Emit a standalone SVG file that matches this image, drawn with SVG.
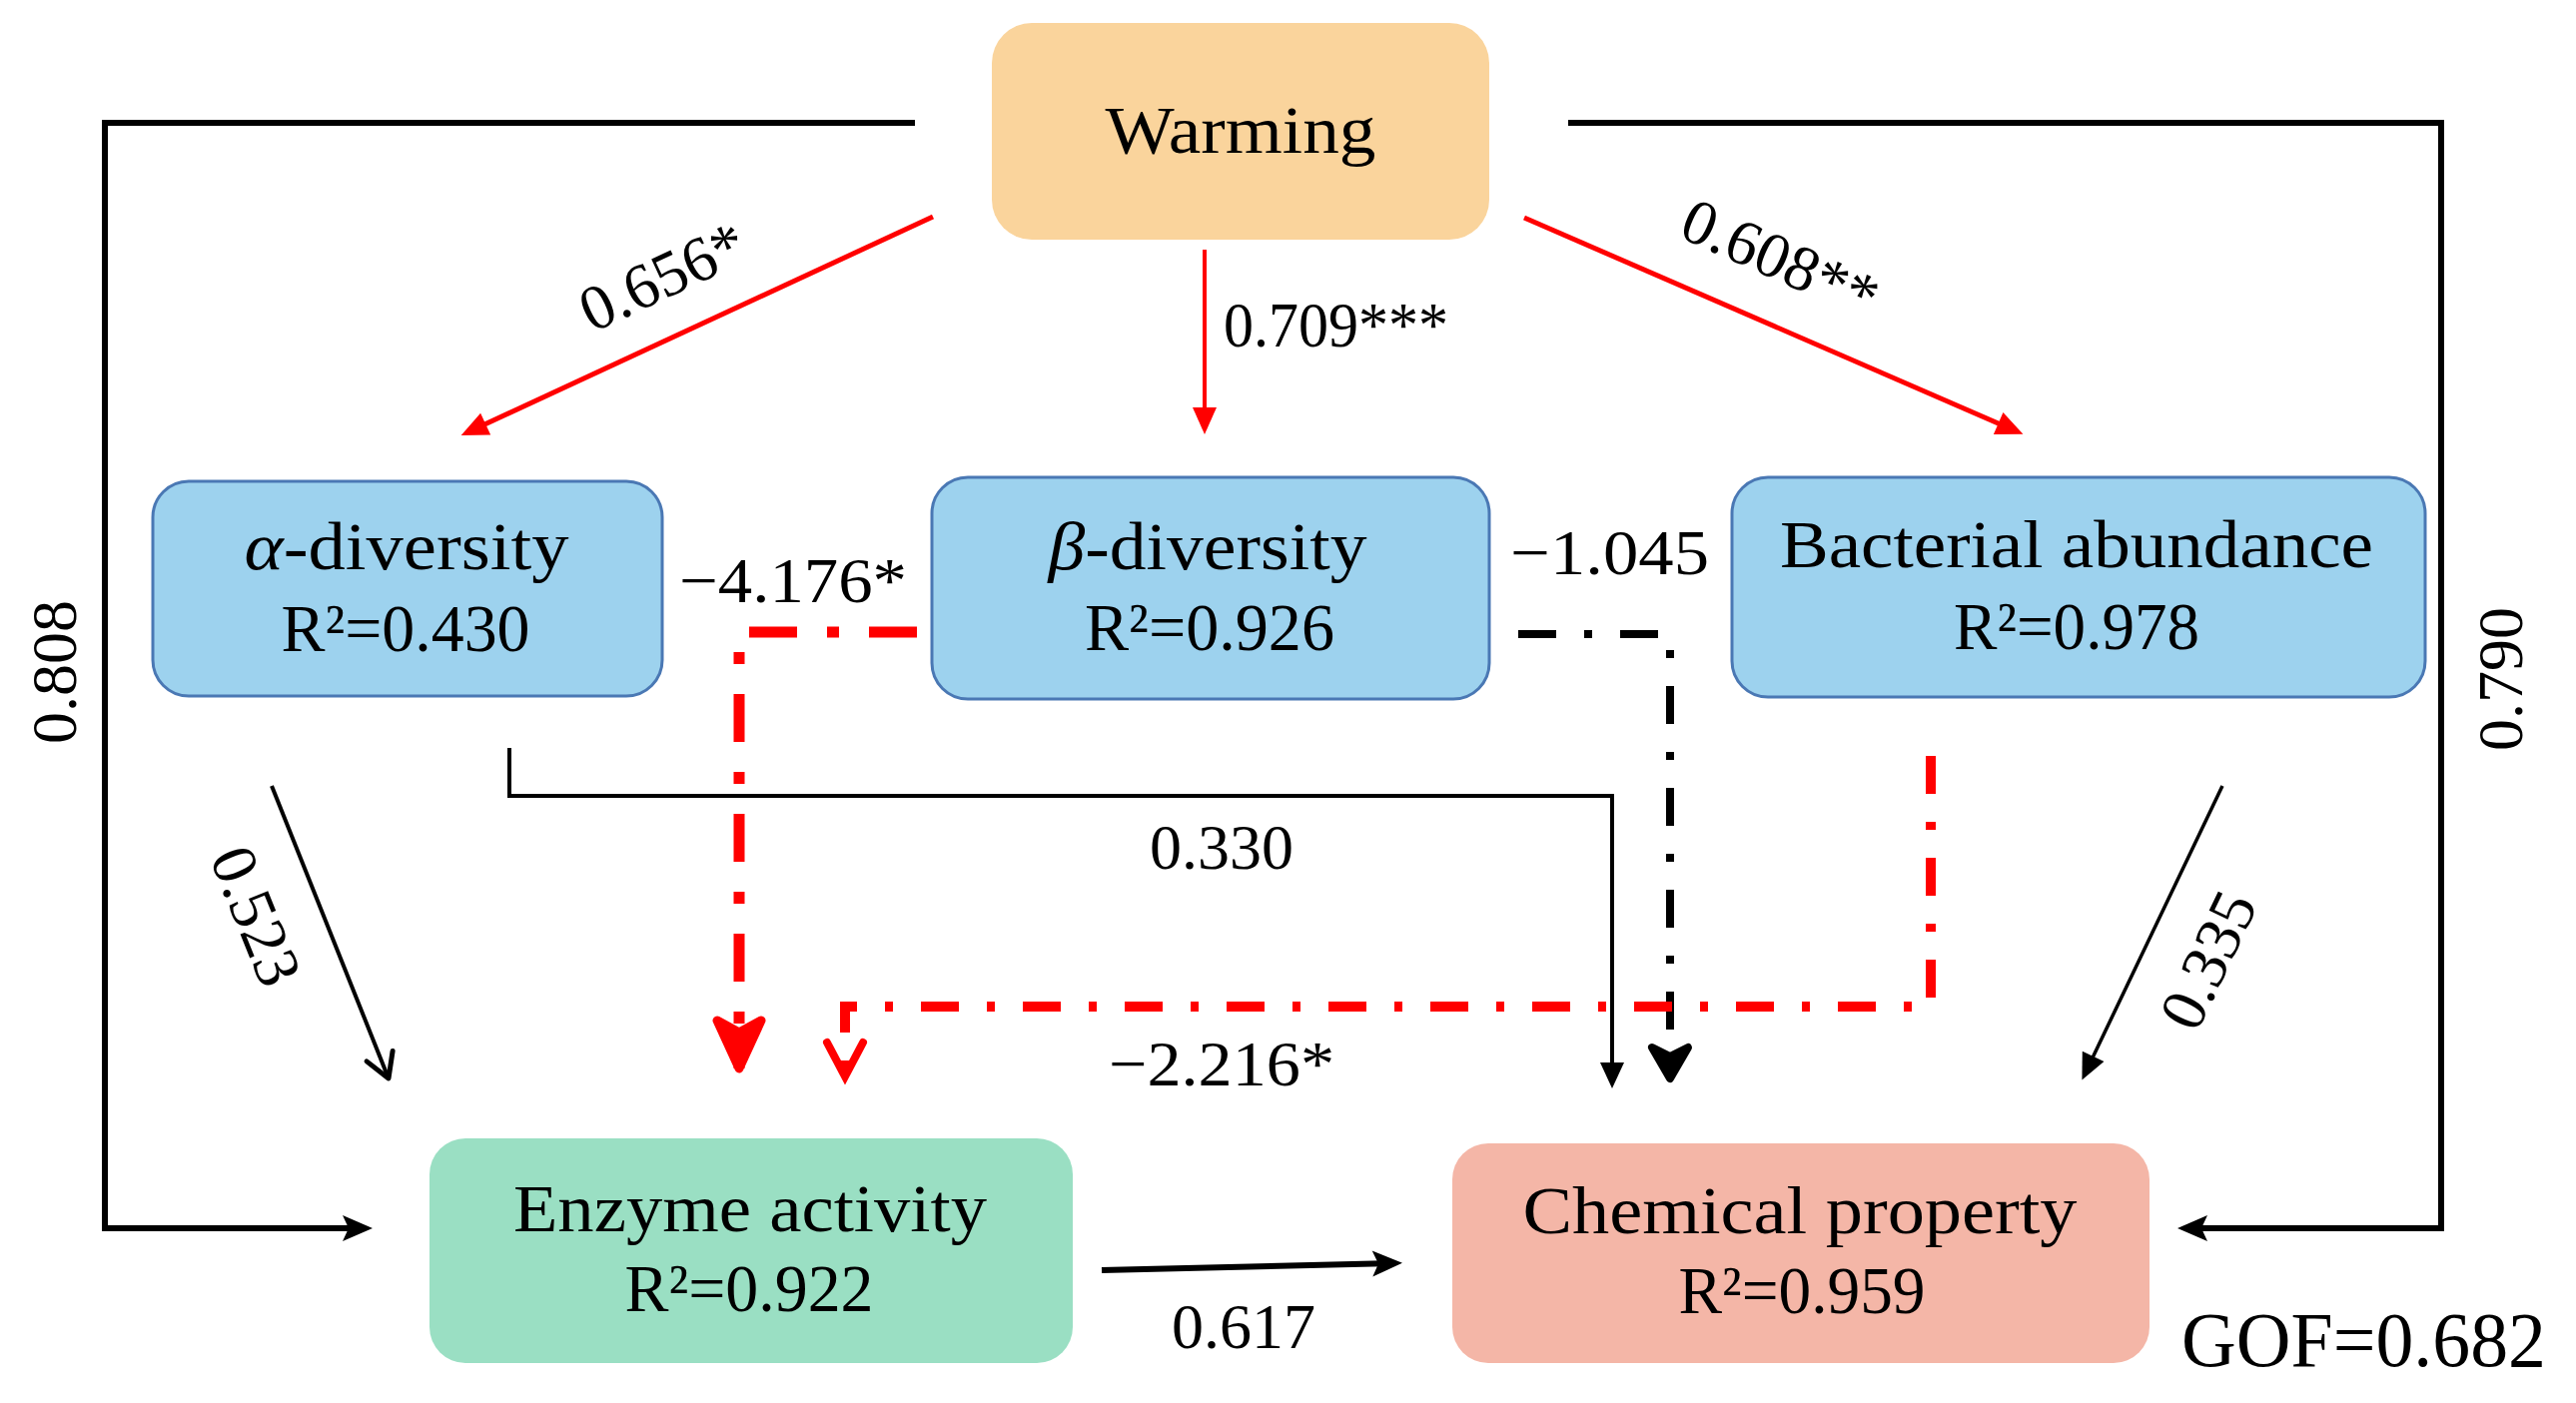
<svg xmlns="http://www.w3.org/2000/svg" width="2579" height="1405" viewBox="0 0 2579 1405">
<style>
text{font-family:"Liberation Serif","Times New Roman",serif;fill:#000}
.nt{font-size:68px;text-anchor:middle}
.lb{font-size:64px}
.blue{fill:#9DD2EE;stroke:#4A78B4;stroke-width:3}
.red{stroke:#FF0000;fill:none}
.blk{stroke:#000;fill:none}
</style>
<defs>
<marker id="mRed" markerUnits="userSpaceOnUse" markerWidth="30" markerHeight="26" refX="20" refY="13" orient="auto" overflow="visible"><path d="M0,1 L27,13 L0,25 Z" fill="#FF0000"/></marker>
<marker id="mBlk" markerUnits="userSpaceOnUse" markerWidth="30" markerHeight="26" refX="20" refY="12" orient="auto" overflow="visible"><path d="M0,0 L26,12 L0,24 Z" fill="#000"/></marker>
<marker id="mBlkBig" markerUnits="userSpaceOnUse" markerWidth="32" markerHeight="28" refX="22" refY="13" orient="auto" overflow="visible"><path d="M0,0 L30,13 L0,26 L6,13 Z" fill="#000"/></marker>
<marker id="mOpenV" markerUnits="userSpaceOnUse" markerWidth="34" markerHeight="40" refX="30" refY="19" orient="auto" overflow="visible"><path d="M6,5 L30,19 L6,33" fill="none" stroke="#000" stroke-width="5" stroke-linecap="round" stroke-linejoin="round"/></marker>
<marker id="mRedVBig" markerUnits="userSpaceOnUse" markerWidth="60" markerHeight="60" refX="52" refY="28" orient="auto" overflow="visible"><path d="M4,6 L52,28 L4,50 L16,28 Z" fill="#FF0000" stroke="#FF0000" stroke-width="9" stroke-linejoin="round"/></marker>
<marker id="mRedVSm" markerUnits="userSpaceOnUse" markerWidth="44" markerHeight="44" refX="38" refY="20" orient="auto" overflow="visible"><path d="M4,2 L38,20 L4,38" fill="none" stroke="#FF0000" stroke-width="8" stroke-linecap="round" stroke-linejoin="miter"/></marker>
<marker id="mBlkV" markerUnits="userSpaceOnUse" markerWidth="44" markerHeight="44" refX="35" refY="20" orient="auto" overflow="visible"><path d="M4,2 L35,20 L4,38 L13,20 Z" fill="#000" stroke="#000" stroke-width="8" stroke-linejoin="round"/></marker>
</defs>
<rect width="2579" height="1405" fill="#fff"/>

<g id="connectors">
<path class="blk" stroke-width="6" d="M916,123 H105 V1230 H365" marker-end="url(#mBlkBig)"/>
<path class="blk" stroke-width="6" d="M1570,123 H2444 V1230 H2188" marker-end="url(#mBlkBig)"/>
<path class="red" stroke-width="5" d="M934,217 L468,433" marker-end="url(#mRed)"/>
<path class="red" stroke-width="4" d="M1206,250 V428" marker-end="url(#mRed)"/>
<path class="red" stroke-width="5" d="M1526,218 L2019,432" marker-end="url(#mRed)"/>
<path class="red" stroke-width="11" stroke-dasharray="48 30 12 30" d="M918,633 H740 V1070" marker-end="url(#mRedVBig)"/>
<path class="blk" stroke-width="8" stroke-dasharray="38 28 8 28" d="M1520,635 H1672 V1080" marker-end="url(#mBlkV)"/>
<path class="red" stroke-width="10" stroke-dasharray="38 28 8 28" d="M1933,757 V1008 H846 V1078" marker-end="url(#mRedVSm)"/>
<path class="blk" stroke-width="4" d="M510,749 V797 H1614 V1084" marker-end="url(#mBlk)"/>
<path class="blk" stroke-width="4" d="M272,787 L389,1080" marker-end="url(#mOpenV)"/>
<path class="blk" stroke-width="3.5" d="M2225,787 L2087,1076" marker-end="url(#mBlk)"/>
<path class="blk" stroke-width="6" d="M1103,1272 L1396,1265" marker-end="url(#mBlkBig)"/>
</g>

<g id="edge-labels">
<text class="lb" font-size="62" text-anchor="middle" transform="translate(665,280) rotate(-25)" y="18">0.656*</text>
<text class="lb" font-size="62" text-anchor="middle" transform="translate(1781,262) rotate(24)" y="18">0.608**</text>
<text class="lb" x="1225" y="347" textLength="225" lengthAdjust="spacingAndGlyphs">0.709***</text>
<text class="lb" x="680" y="603" textLength="228" lengthAdjust="spacingAndGlyphs">−4.176*</text>
<text class="lb" x="1512" y="575" textLength="199" lengthAdjust="spacingAndGlyphs">−1.045</text>
<text class="lb" x="1223" y="870" text-anchor="middle">0.330</text>
<text class="lb" x="1110" y="1087" textLength="226" lengthAdjust="spacingAndGlyphs">−2.216*</text>
<text class="lb" x="1245" y="1350" text-anchor="middle">0.617</text>
<text class="lb" text-anchor="middle" transform="translate(255,918) rotate(68)" y="20">0.523</text>
<text class="lb" text-anchor="middle" transform="translate(2212,962) rotate(-64.5)" y="20">0.335</text>
<text class="lb" text-anchor="middle" transform="translate(54,673) rotate(-90)" y="22">0.808</text>
<text class="lb" text-anchor="middle" transform="translate(2503,680) rotate(-90)" y="22">0.790</text>
<text x="2184" y="1368" font-size="78" textLength="365" lengthAdjust="spacingAndGlyphs">GOF=0.682</text>
</g>

<g id="warming">
<rect x="993" y="23" width="498" height="217" rx="40" fill="#FAD49C"/>
<text class="nt" x="1242" y="153" textLength="271" lengthAdjust="spacingAndGlyphs">Warming</text>
</g>

<g id="alpha-diversity">
<rect class="blue" x="153" y="482" width="510" height="215" rx="36"/>
<text class="nt" x="407" y="570" textLength="325" lengthAdjust="spacingAndGlyphs"><tspan font-style="italic">α</tspan>-diversity</text>
<text class="nt" x="406" y="652" textLength="249" lengthAdjust="spacingAndGlyphs">R²=0.430</text>
</g>

<g id="beta-diversity">
<rect class="blue" x="933" y="478" width="558" height="222" rx="36"/>
<text class="nt" x="1209" y="570" textLength="319" lengthAdjust="spacingAndGlyphs"><tspan font-style="italic">β</tspan>-diversity</text>
<text class="nt" x="1211" y="651" textLength="250" lengthAdjust="spacingAndGlyphs">R²=0.926</text>
</g>

<g id="bacterial-abundance">
<rect class="blue" x="1734" y="478" width="694" height="220" rx="36"/>
<text class="nt" x="2079" y="568" textLength="594" lengthAdjust="spacingAndGlyphs">Bacterial abundance</text>
<text class="nt" x="2079" y="650" textLength="246" lengthAdjust="spacingAndGlyphs">R²=0.978</text>
</g>

<g id="enzyme-activity">
<rect x="430" y="1140" width="644" height="225" rx="36" fill="#9ADFC3"/>
<text class="nt" x="751" y="1233" textLength="474" lengthAdjust="spacingAndGlyphs">Enzyme activity</text>
<text class="nt" x="750" y="1313" textLength="249" lengthAdjust="spacingAndGlyphs">R²=0.922</text>
</g>

<g id="chemical-property">
<rect x="1454" y="1145" width="698" height="220" rx="36" fill="#F4B6A7"/>
<text class="nt" x="1802" y="1235" textLength="555" lengthAdjust="spacingAndGlyphs">Chemical property</text>
<text class="nt" x="1804" y="1315" textLength="247" lengthAdjust="spacingAndGlyphs">R²=0.959</text>
</g>
</svg>
